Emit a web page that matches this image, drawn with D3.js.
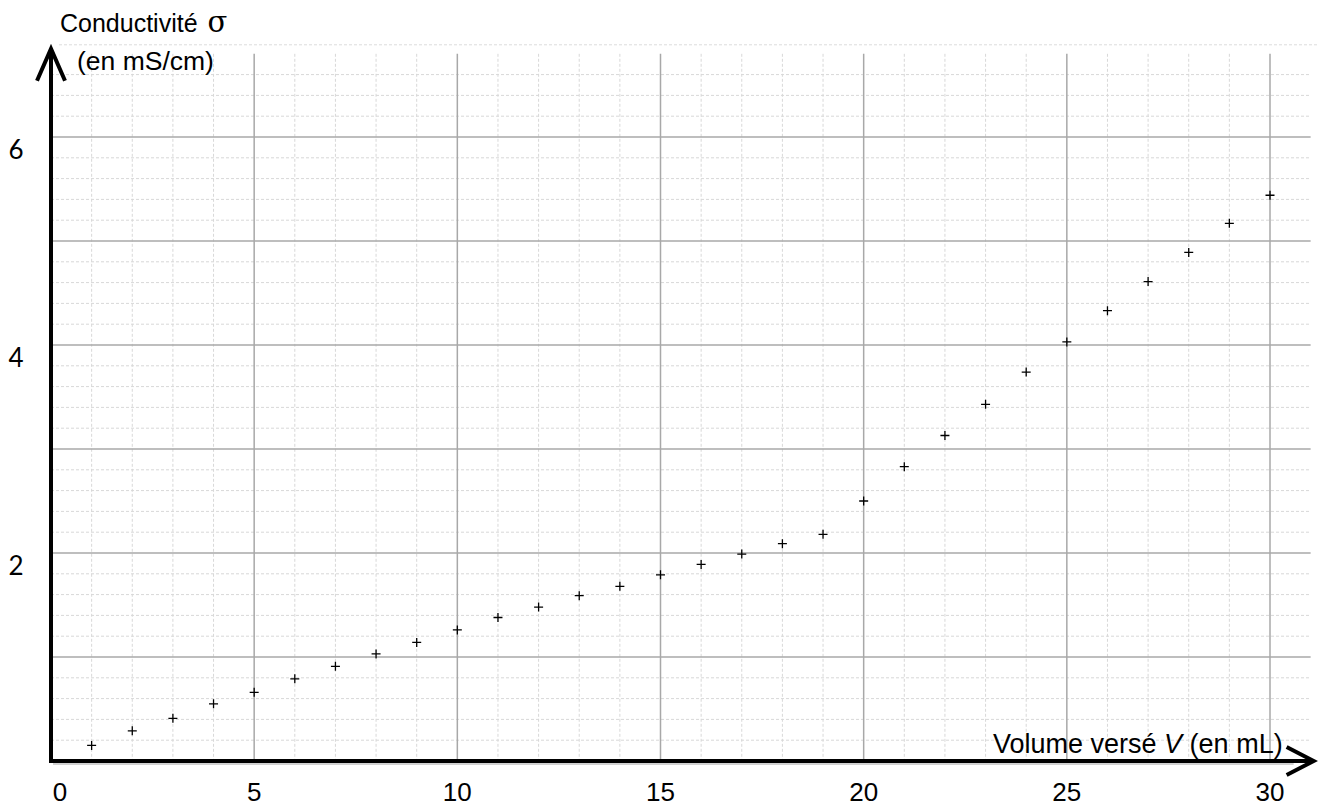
<!DOCTYPE html>
<html>
<head>
<meta charset="utf-8">
<script src="https://cdn.jsdelivr.net/npm/d3@7"></script>
<style>
  html, body { margin: 0; padding: 0; background: #fff; }
  svg { display: block; }
  text { font-family: 'Liberation Sans', Arial, sans-serif; fill: #000; }
</style>
</head>
<body>
<div id="chart"></div>
<script>
// volume versé (mL)
let volumes = [1, 2, 3, 4, 5, 6, 7, 8, 9, 10, 11, 12, 13, 14, 15, 16, 17, 18, 19, 20, 21, 22, 23, 24, 25, 26, 27, 28, 29, 30]
// conductivité (mS/cm)
let sigma = [0.15, 0.29, 0.41, 0.55, 0.66, 0.79, 0.91, 1.03, 1.14, 1.26, 1.38, 1.48, 1.59, 1.68, 1.79,
  1.89, 1.99, 2.09, 2.18, 2.50, 2.83, 3.13, 3.43, 3.74, 4.03, 4.33, 4.61, 4.89, 5.17, 5.44]
let xTicks = [0, 5, 10, 15, 20, 25, 30]
let yTicks = [2, 4, 6]

let w = 1318,
  h = 812

let svg = d3.select('#chart').append('svg').attr('width', w).attr('height', h)

let x = d3.scaleLinear().domain([0, 30]).range([51, 1270])
let y = d3.scaleLinear().domain([0, 6]).range([761, 137])

let xMax = 31,      // fin des lignes horizontales
  yMax = 6.8        // haut du papier millimétré

// grid
let grid = svg.append('g').classed('grid', true)
grid.append('line')
  .attr('x1', x(0) + 8).attr('x2', w)
  .attr('y1', y(yMax) - 9).attr('y2', y(yMax) - 9)
  .attr('stroke', '#dcdcdc').attr('stroke-width', 1).attr('stroke-dasharray', '3,2')
grid.selectAll('.vminor').data(d3.range(1, 31).filter(d => d % 5 !== 0)).enter()
  .append('line').classed('vminor', true)
  .attr('x1', d => x(d)).attr('x2', d => x(d))
  .attr('y1', y(yMax)).attr('y2', y(0))
  .attr('stroke', '#d8d8d8').attr('stroke-width', 1).attr('stroke-dasharray', '3,2')
grid.selectAll('.hminor').data(d3.range(1, 34).map(i => i / 5).filter(d => Math.abs(d - Math.round(d)) > 0.01)).enter()
  .append('line').classed('hminor', true)
  .attr('x1', x(0)).attr('x2', x(xMax))
  .attr('y1', d => y(d)).attr('y2', d => y(d))
  .attr('stroke', '#d8d8d8').attr('stroke-width', 1).attr('stroke-dasharray', '3,2')
grid.selectAll('.vmajor').data([5, 10, 15, 20, 25, 30]).enter()
  .append('line').classed('vmajor', true)
  .attr('x1', d => x(d)).attr('x2', d => x(d))
  .attr('y1', y(yMax)).attr('y2', y(0))
  .attr('stroke', '#a8a8a8').attr('stroke-width', 1.5)
grid.selectAll('.hmajor').data([1, 2, 3, 4, 5, 6]).enter()
  .append('line').classed('hmajor', true)
  .attr('x1', x(0)).attr('x2', x(xMax))
  .attr('y1', d => y(d)).attr('y2', d => y(d))
  .attr('stroke', '#a8a8a8').attr('stroke-width', 1.5)

// points
let data = volumes.map((v, i) => ({ v: v, s: sigma[i] }))
svg.append('g').selectAll('.pt').data(data).enter()
  .append('path').classed('pt', true)
  .attr('transform', d => `translate(${x(d.v)}, ${y(d.s)})`)
  .attr('d', 'M-4.5,0H4.5M0,-4.5V4.5')
  .attr('stroke', '#000').attr('stroke-width', 1.3).attr('fill', 'none')

// axes
let x0 = x(0),
  y0 = y(0),
  xTip = x(xMax) + 3,
  yTip = y(yMax) - 5
svg.append('line')
  .attr('x1', x0 + 2).attr('y1', y0 + 3).attr('x2', xTip - 20).attr('y2', y0 + 3)
  .attr('stroke', '#d0d0d0').attr('stroke-width', 2)
svg.append('line')
  .attr('x1', x0).attr('y1', y0).attr('x2', xTip).attr('y2', y0)
  .attr('stroke', '#000').attr('stroke-width', 4)
svg.append('line')
  .attr('x1', x0).attr('y1', y0 + 2).attr('x2', x0).attr('y2', yTip)
  .attr('stroke', '#000').attr('stroke-width', 4)
svg.append('path')
  .attr('d', `M${xTip - 27},${y0 - 14}L${xTip},${y0}L${xTip - 27},${y0 + 14}`)
  .attr('stroke', '#000').attr('stroke-width', 4).attr('fill', 'none')
svg.append('path')
  .attr('d', `M${x0 - 14},${yTip + 32}L${x0},${yTip}L${x0 + 14},${yTip + 32}`)
  .attr('stroke', '#000').attr('stroke-width', 4).attr('fill', 'none')

// tick labels
svg.selectAll('.xlab').data(xTicks).enter()
  .append('text').classed('xlab', true)
  .attr('x', d => x(d) + (d === 0 ? 9 : 0)).attr('y', 801)
  .attr('text-anchor', 'middle').attr('font-size', '26px')
  .text(d => d)
svg.selectAll('.ylab').data(yTicks).enter()
  .append('text').classed('ylab', true)
  .attr('x', 16).attr('y', d => y(d) + 12)
  .attr('text-anchor', 'middle').attr('dominant-baseline', 'central')
  .attr('font-size', '26px').style('font-family', 'Lato, sans-serif')
  .text(d => d)

// titles
let yt = svg.append('text').attr('x', 60).attr('y', 32).attr('font-size', '25px')
yt.append('tspan').text('Conductivité ')
yt.append('tspan').attr('dx', 3).attr('font-size', '29px')
  .style('font-family', "'DejaVu Serif', serif").text('σ')
svg.append('text').attr('x', 77).attr('y', 70).attr('font-size', '26.5px').text('(en mS/cm)')

let xt = svg.append('text').attr('x', 993).attr('y', 753).attr('font-size', '27px')
xt.append('tspan').text('Volume versé ')
xt.append('tspan').style('font-style', 'italic').text('V')
xt.append('tspan').text(' (en mL)')
</script>
</body>
</html>
